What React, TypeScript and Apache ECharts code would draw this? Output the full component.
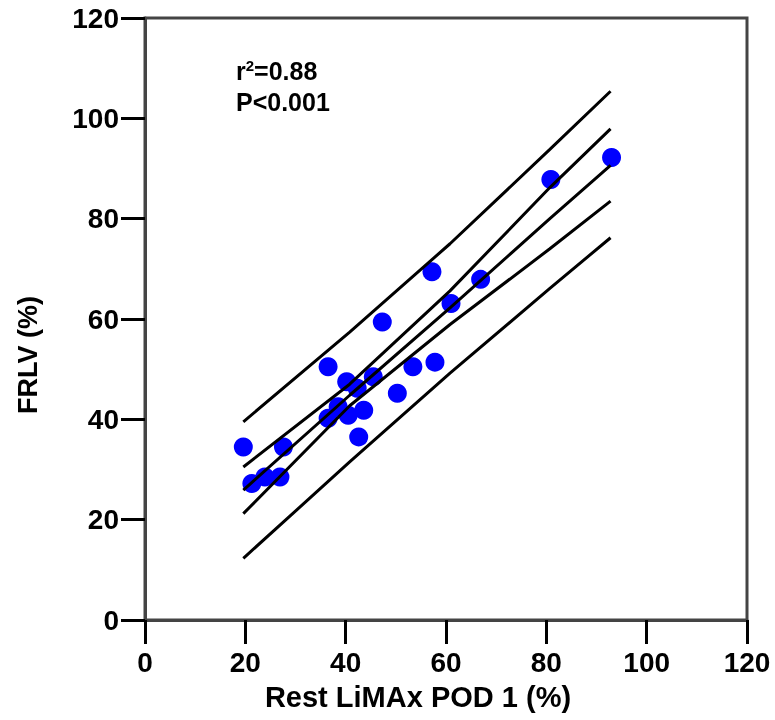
import React, { useEffect, useRef } from "react";
import * as echarts from "echarts";

// Data points (Rest LiMAx POD 1 %, FRLV %)
const pointX = [19.6, 27.6, 21.3, 23.9, 26.9, 36.5, 47.3, 40.2, 42.3, 45.5, 53.4, 57.8, 50.3, 38.5, 36.5, 40.5, 43.6, 42.6, 61.0, 93.0, 80.9, 57.2, 66.9];
const pointY = [34.5, 34.5, 27.2, 28.5, 28.5, 50.5, 59.4, 47.5, 46.2, 48.5, 50.5, 51.4, 45.2, 42.5, 40.2, 40.8, 41.8, 36.5, 63.1, 92.2, 87.8, 69.4, 67.9];

// Regression line and bands read at these x positions
const bandX = [19.6, 40.8, 60.8, 80.7, 92.8];
const fitY = [25.9, 44.8, 62.2, 80.0, 90.6];
const confUpper = [30.5, 47.0, 65.6, 86.2, 97.9];
const confLower = [21.2, 42.7, 58.9, 74.0, 83.5];
const predUpper = [39.5, 57.4, 75.0, 93.8, 105.4];
const predLower = [12.3, 31.5, 49.2, 66.1, 76.2];

const xTitle = "Rest LiMAx POD 1 (%)";
const yTitle = "FRLV (%)";

const FONT = "Arial, 'Liberation Sans', Helvetica, sans-serif";

export default function App() {
  const ref = useRef<HTMLDivElement>(null);
  useEffect(() => {
    if (!ref.current) return;
    const chart = echarts.init(ref.current, undefined, { renderer: "svg" });
    const mkLine = (ys: number[]) => ({
      type: "line",
      data: bandX.map((x, i) => [x, ys[i]]),
      symbol: "none",
      lineStyle: { color: "#000", width: 3 },
      z: 5,
      silent: true,
    });
    const axisCommon = {
      type: "value",
      min: 0,
      max: 120,
      interval: 20,
      splitLine: { show: false },
      axisLine: { show: true, lineStyle: { color: "#444", width: 3 } },
      axisTick: { show: true, length: 24, lineStyle: { color: "#000", width: 3 } },
    };
    chart.setOption({
      animation: false,
      grid: {
        left: 145,
        right: 28,
        top: 18,
        bottom: 100,
        containLabel: false,
        outerBoundsMode: "none",
        show: true,
        borderColor: "#444",
        borderWidth: 3,
      },
      xAxis: {
        ...axisCommon,
        axisLabel: { fontSize: 28, fontWeight: "bold", color: "#000", fontFamily: FONT, margin: 28 },
      },
      yAxis: {
        ...axisCommon,
        axisLabel: { fontSize: 28, fontWeight: "bold", color: "#000", fontFamily: FONT, margin: 26 },
      },
      series: [
        {
          type: "scatter",
          data: pointX.map((x, i) => [x, pointY[i]]),
          symbol: "circle",
          symbolSize: 19,
          itemStyle: { color: "#0000FF", opacity: 1 },
          z: 3,
        },
        mkLine(predUpper),
        mkLine(confUpper),
        mkLine(fitY),
        mkLine(confLower),
        mkLine(predLower),
      ],
      graphic: [
        {
          type: "text",
          x: 418,
          y: 697,
          style: {
            text: xTitle,
            fontSize: 29,
            fontWeight: "bold",
            fontFamily: FONT,
            fill: "#000",
            align: "center",
            verticalAlign: "middle",
          },
        },
        {
          type: "text",
          x: 28,
          y: 355,
          rotation: Math.PI / 2,
          style: {
            text: yTitle,
            fontSize: 27,
            fontWeight: "bold",
            fontFamily: FONT,
            fill: "#000",
            align: "center",
            verticalAlign: "middle",
          },
        },
        {
          type: "text",
          left: 236,
          top: 58,
          style: {
            text: "{a|r}{s|2}{a|=0.88}",
            rich: {
              a: { fontSize: 25, fontWeight: "bold", fontFamily: FONT, fill: "#000" },
              s: { fontSize: 15, fontWeight: "bold", fontFamily: FONT, fill: "#000", verticalAlign: "top", padding: [0, 0, 8, 0] },
            },
          },
        },
        {
          type: "text",
          left: 236,
          top: 89,
          style: { text: "P<0.001", fontSize: 25, fontWeight: "bold", fontFamily: FONT, fill: "#000" },
        },
      ],
    });
    return () => chart.dispose();
  }, []);
  return <div ref={ref} style={{ position: "fixed", left: 0, top: 0, width: 775, height: 720 }} />;
}
